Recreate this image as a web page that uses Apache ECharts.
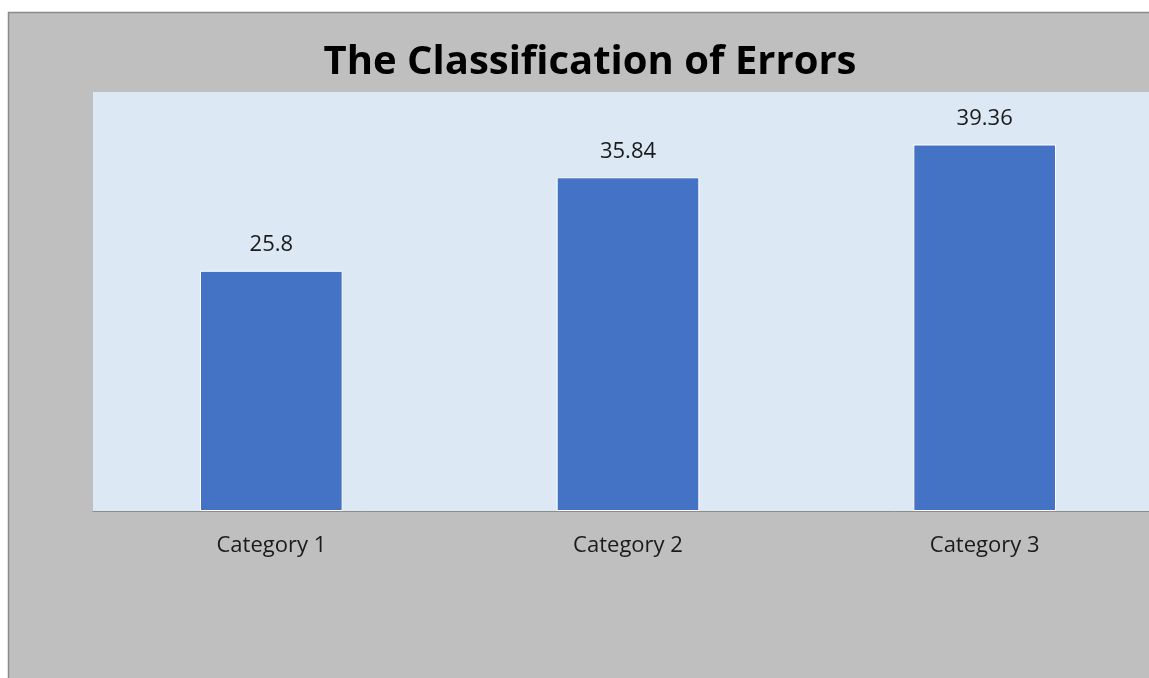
<!DOCTYPE html>
<html>
<head>
<meta charset="utf-8">
<script src="https://cdn.jsdelivr.net/npm/echarts@6/dist/echarts.min.js"></script>
<style>
  html, body { margin: 0; padding: 0; background: #ffffff; overflow: hidden; }
  #chart { width: 1170px; height: 678px; }
</style>
</head>
<body>
<div id="chart"></div>
<script>
var chartTitle = 'The Classification of Errors';
var categories = ['Category 1', 'Category 2', 'Category 3'];
var values = [25.8, 35.84, 39.36];

var chart = echarts.init(document.getElementById('chart'));
var option = {
  backgroundColor: '#ffffff',
  animation: false,
  title: {
    text: chartTitle,
    left: 585,
    textAlign: 'center',
    top: 38,
    textStyle: {
      fontFamily: 'Open Sans',
      fontWeight: 'bold',
      fontSize: 40,
      color: '#000000'
    }
  },
  graphic: [{
    type: 'rect',
    z: -10,
    shape: { x: 8.5, y: 12.5, width: 1200, height: 700 },
    style: { fill: '#bfbfbf', stroke: '#8a8a8a', lineWidth: 1.5 }
  }],
  grid: {
    left: 93,
    top: 92,
    width: 1070,
    height: 419,
    show: true,
    backgroundColor: '#dde8f5',
    borderWidth: 0
  },
  xAxis: {
    type: 'category',
    data: categories,
    axisTick: { show: false },
    axisLine: { lineStyle: { color: '#8c8c8c', width: 1 } },
    axisLabel: {
      margin: 24,
      fontFamily: 'Open Sans',
      fontSize: 22,
      color: '#1a1a1a'
    }
  },
  yAxis: {
    type: 'value',
    min: 0,
    max: 45,
    show: false,
    splitLine: { show: false }
  },
  series: [{
    type: 'bar',
    data: values,
    barWidth: '40%',
    itemStyle: { color: '#4472c4', borderColor: '#ffffff', borderWidth: 1 },
    label: {
      show: true,
      position: 'top',
      distance: 15,
      fontFamily: 'Open Sans',
      fontSize: 22,
      color: '#1a1a1a'
    }
  }]
};
chart.setOption(option);
window.onresize = chart.resize;
</script>
</body>
</html>
